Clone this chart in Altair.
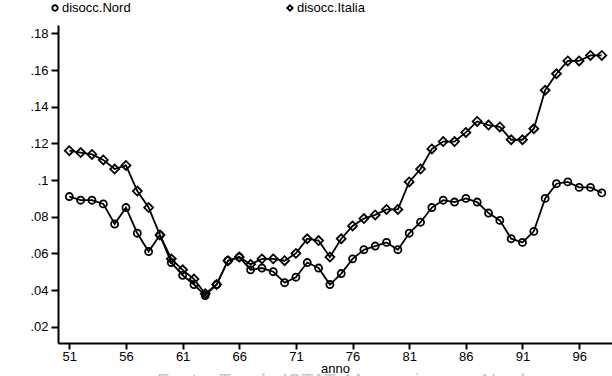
import altair as alt
import pandas as pd

years = list(range(51, 99))

nord = [0.091, 0.089, 0.089, 0.087, 0.076, 0.085, 0.071, 0.061, 0.070, 0.055,
        0.048, 0.043, 0.037, 0.043, 0.056, 0.058, 0.051, 0.052, 0.050, 0.044,
        0.047, 0.055, 0.052, 0.043, 0.049, 0.057, 0.062, 0.064, 0.066, 0.062,
        0.071, 0.077, 0.085, 0.089, 0.088, 0.090, 0.088, 0.082, 0.078, 0.068,
        0.066, 0.072, 0.090, 0.098, 0.099, 0.096, 0.096, 0.093]

italia = [0.116, 0.115, 0.114, 0.111, 0.106, 0.108, 0.094, 0.085, 0.070, 0.057,
          0.051, 0.046, 0.038, 0.043, 0.056, 0.058, 0.054, 0.057, 0.057, 0.056,
          0.060, 0.068, 0.067, 0.058, 0.068, 0.075, 0.079, 0.081, 0.084, 0.084,
          0.099, 0.106, 0.117, 0.121, 0.121, 0.126, 0.132, 0.130, 0.129, 0.122,
          0.122, 0.128, 0.149, 0.158, 0.165, 0.165, 0.168, 0.168]

series_names = ["disocc.Nord", "disocc.Italia"]
series_shapes = ["circle", "diamond"]
series_sizes = [50, 80]
x_ticks = [51, 56, 61, 66, 71, 76, 81, 86, 91, 96]
y_ticks = [0.02, 0.04, 0.06, 0.08, 0.10, 0.12, 0.14, 0.16, 0.18]
footer_text = "Fonte: Tavole ISTAT, Mezzogiorno e Nord"

df = pd.DataFrame({
    "anno": years * 2,
    "value": nord + italia,
    "series": [series_names[0]] * len(years) + [series_names[1]] * len(years),
})

FONT = "Liberation Sans"
W, H = 554, 318

x_enc = alt.X("anno:Q",
              scale=alt.Scale(domain=[50, 98.9], nice=False, zero=False),
              axis=alt.Axis(values=x_ticks, tickCount=30, format="d", title="anno",
                            grid=False, domainColor="black", domainWidth=2,
                            tickColor="black", tickWidth=2, tickSize=6,
                            labelFont=FONT, labelFontSize=13, labelColor="black",
                            labelPadding=1, labelOverlap=False,
                            titleFont=FONT, titleFontSize=13,
                            titleFontWeight="normal", titleColor="black",
                            titlePadding=-1))
y_enc = alt.Y("value:Q",
              scale=alt.Scale(domain=[0.0111, 0.1846], nice=False, zero=False),
              axis=alt.Axis(values=y_ticks, tickCount=30, title=None, grid=False,
                            labelExpr="replace(format(datum.value, '.2~f'), '0.', '.')",
                            domainColor="black", domainWidth=2,
                            tickColor="black", tickWidth=2, tickSize=7,
                            labelFont=FONT, labelFontSize=13, labelColor="black",
                            labelPadding=3, labelOverlap=False))

lines = alt.Chart(df).mark_line(color="black", strokeWidth=1.8).encode(
    x=x_enc, y=y_enc, detail="series:N")

points = alt.Chart(df).mark_point(filled=False, color="black", opacity=1,
                                  strokeWidth=1.8).encode(
    x="anno:Q", y="value:Q",
    shape=alt.Shape("series:N", scale=alt.Scale(domain=series_names, range=series_shapes), legend=None),
    size=alt.Size("series:N", scale=alt.Scale(domain=series_names, range=series_sizes), legend=None))


def legend_item(name, shape, x0):
    sym = alt.Chart(pd.DataFrame({"s": [name]})).mark_point(
        shape=shape, filled=False, color="black", opacity=1, strokeWidth=1.8, size=30
    ).encode(x=alt.value(x0), y=alt.value(-17))
    txt = alt.Chart(pd.DataFrame({"s": [name]})).mark_text(
        align="left", baseline="middle", font=FONT, fontSize=13, color="black"
    ).encode(x=alt.value(x0 + 7), y=alt.value(-17), text="s:N")
    return [sym, txt]


leg = legend_item(series_names[0], series_shapes[0], -3) + \
      legend_item(series_names[1], series_shapes[1], 232)

footer = alt.Chart(pd.DataFrame({"t": [footer_text]})).mark_text(
    align="left", baseline="alphabetic", font=FONT, fontSize=20, color="#c8c8c8"
).encode(x=alt.value(99), y=alt.value(363), text="t:N")

chart = alt.layer(lines, points, *leg, footer).properties(
    width=W, height=H,
    padding={"left": 58, "top": 25, "right": 0, "bottom": 33},
    autosize=alt.AutoSizeParams(type="none"),
).configure_view(stroke=None)

chart.save("out.html", embed_options={"renderer": "svg", "actions": False})
